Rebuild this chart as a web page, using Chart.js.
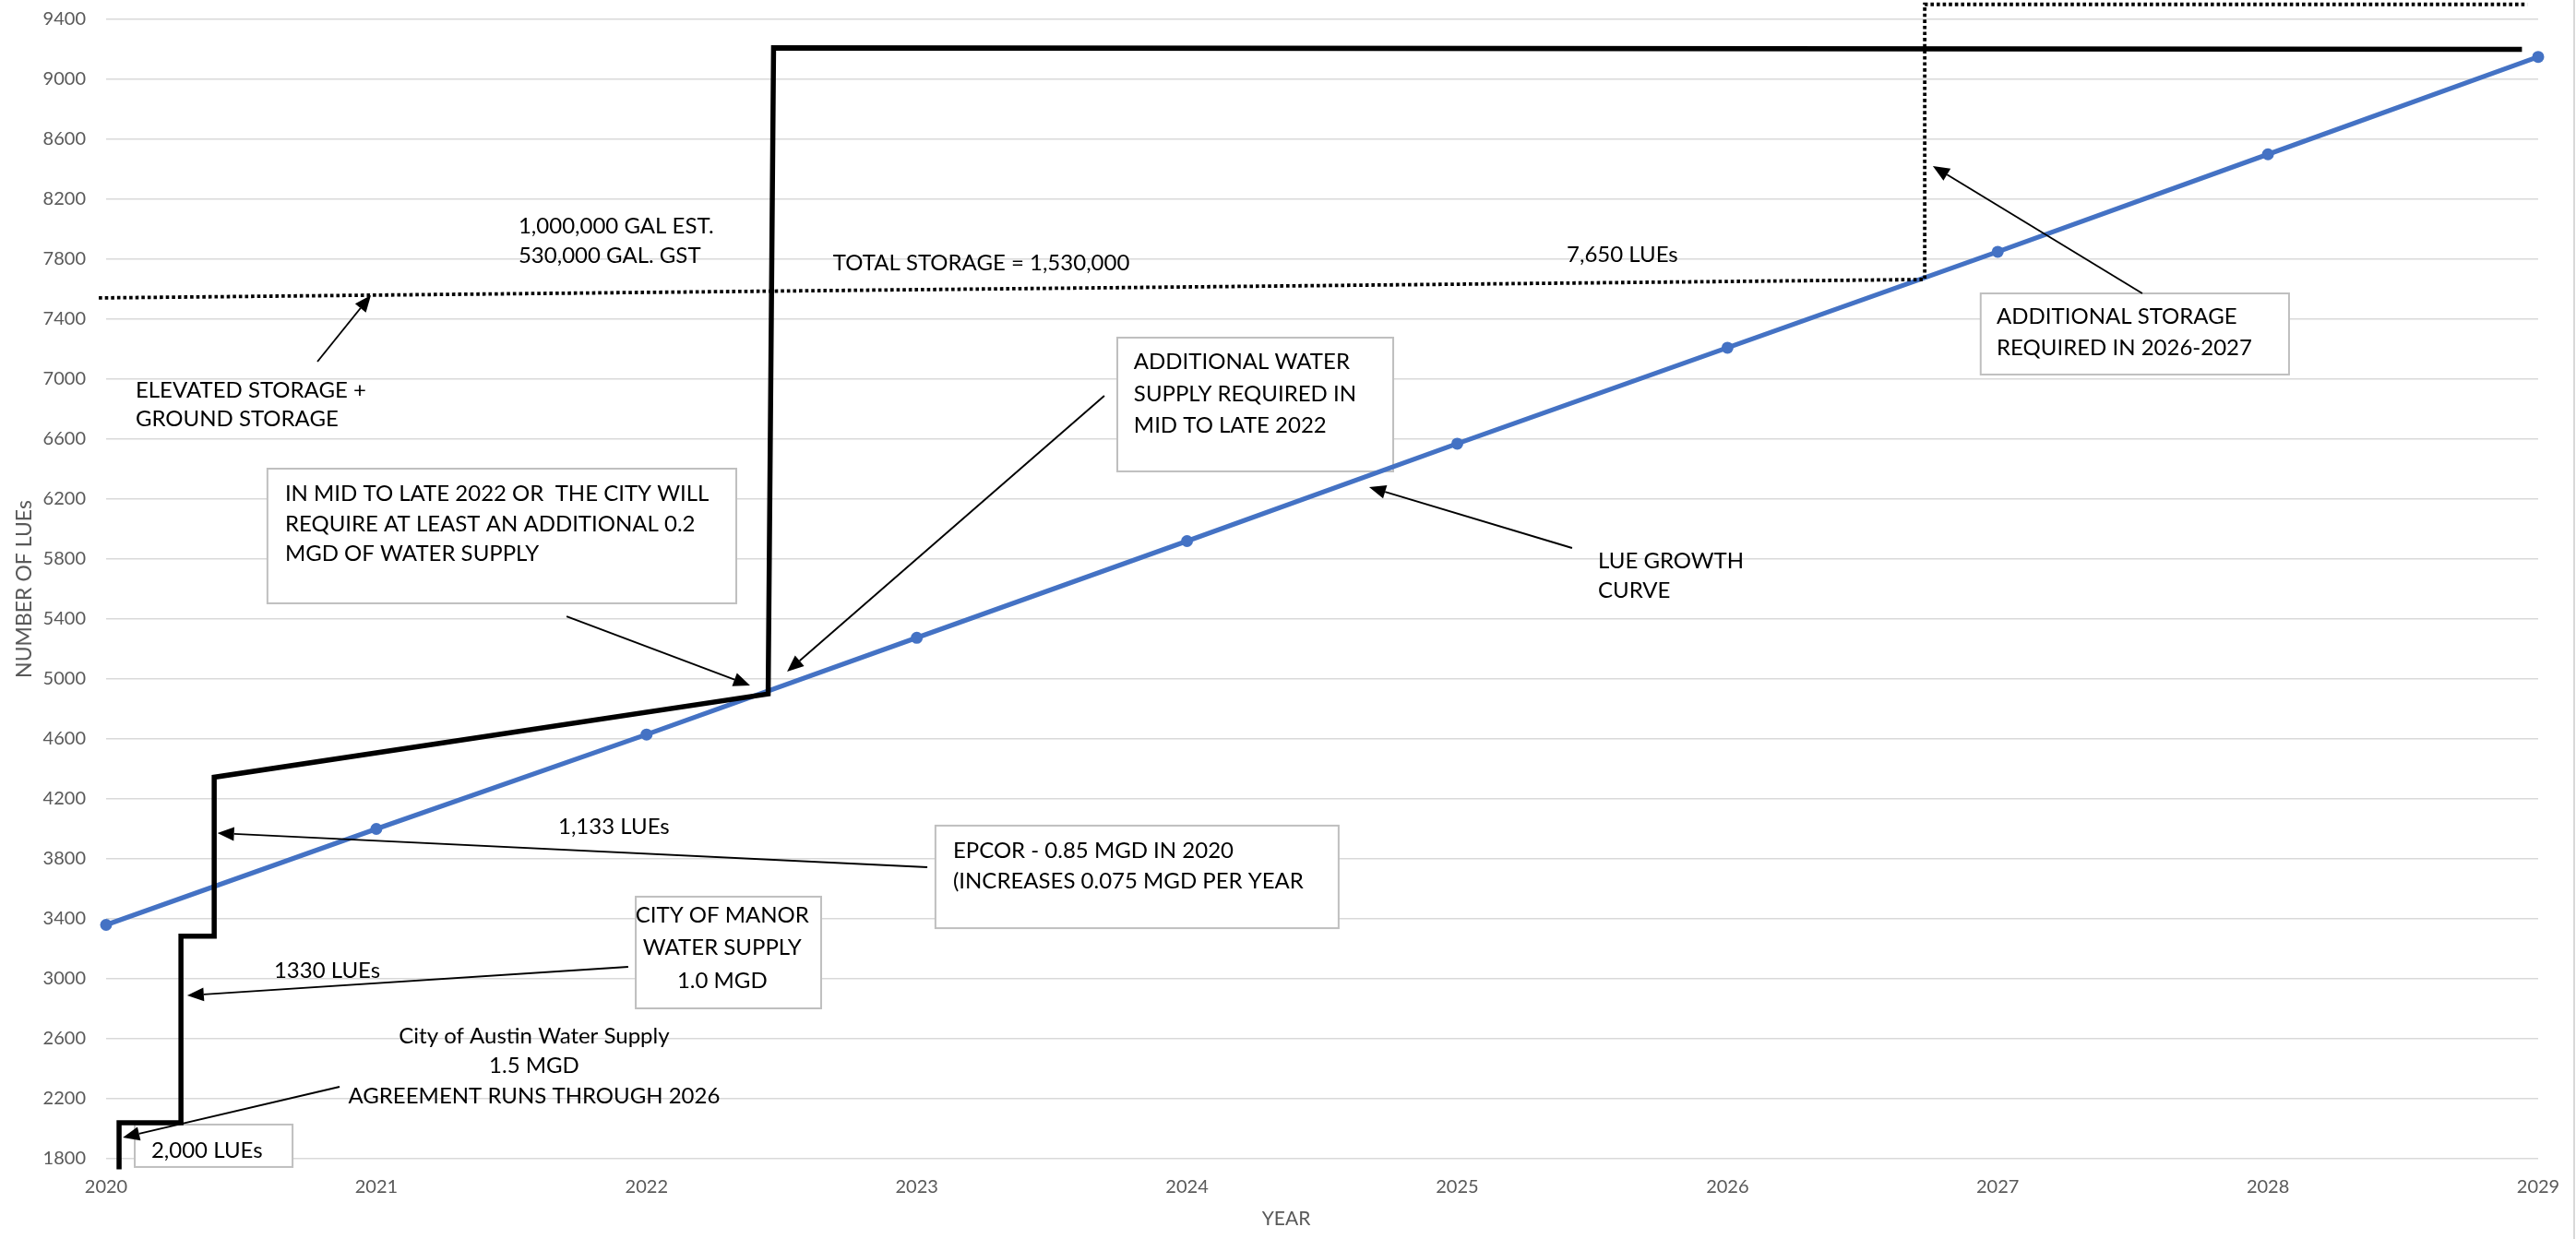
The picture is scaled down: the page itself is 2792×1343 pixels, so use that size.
<!DOCTYPE html>
<html>
<head>
<meta charset="utf-8">
<script src="https://cdn.jsdelivr.net/npm/chart.js@4/dist/chart.umd.min.js"></script>
<style>
  html, body { margin: 0; padding: 0; background: #ffffff; }
  #wrap { width: 2792px; height: 1343px; position: relative; }
</style>
</head>
<body>
<div id="wrap"><canvas id="c" width="2792" height="1343"></canvas></div>
<script>
// ---------------- DATA ----------------
const years = [2020, 2021, 2022, 2023, 2024, 2025, 2026, 2027, 2028, 2029];
const lueGrowth = [3360, 4000, 4630, 5275, 5920, 6570, 7210, 7850, 8500, 9150];

// water supply step line (year, LUEs)
const supplyX = [2020.048, 2020.048, 2020.277, 2020.277, 2020.40, 2020.40, 2022.45, 2022.47, 2028.94];
const supplyY = [1730, 2040, 2040, 3285, 3285, 4345, 4900, 9210, 9200];

// storage capacity dotted line (year, LUEs)
const storageX = [2019.973, 2019.973, 2026.73, 2026.73, 2028.96];
const storageY = [1730, 7542, 7665, 9500, 9500];

const yTickMin = 1800, yTickMax = 9400, yTickStep = 400;
const xTickMin = 2020, xTickMax = 2029, xTickStep = 1;
const xAxisTitle = 'YEAR';
const yAxisTitle = 'NUMBER OF LUEs';

// ---------------- ANNOTATIONS (in data units) ----------------
const noteBoxes = [
  [2020.597, 6403, 2022.332, 5505],
  [2023.742, 7277, 2024.763, 6385],
  [2026.937, 7572, 2028.078, 7031],
  [2023.069, 4022, 2024.561, 3338],
  [2021.960, 3548, 2022.646, 2803],
  [2020.106, 2028, 2020.690, 1745]
];
const noteTexts = [
  { x: 2020.109, y: [6926, 6735], lines: ['ELEVATED STORAGE +', 'GROUND STORAGE'] },
  { x: 2021.526, y: [8022, 7825], lines: ['1,000,000 GAL EST.', '530,000 GAL. GST'] },
  { x: 2022.690, y: [7775], lines: ['TOTAL STORAGE = 1,530,000'] },
  { x: 2025.405, y: [7831], lines: ['7,650 LUEs'] },
  { x: 2026.996, y: [7418, 7209], lines: ['ADDITIONAL STORAGE', 'REQUIRED IN 2026-2027'] },
  { x: 2023.803, y: [7117, 6902, 6692], lines: ['ADDITIONAL WATER', 'SUPPLY REQUIRED IN', 'MID TO LATE 2022'] },
  { x: 2020.662, y: [6237, 6034, 5837], lines: ['IN MID TO LATE 2022 OR  THE CITY WILL', 'REQUIRE AT LEAST AN ADDITIONAL 0.2', 'MGD OF WATER SUPPLY'] },
  { x: 2025.521, y: [5788, 5591], lines: ['LUE GROWTH', 'CURVE'] },
  { x: 2023.134, y: [3855, 3652], lines: ['EPCOR - 0.85 MGD IN 2020', '(INCREASES 0.075 MGD PER YEAR'] },
  { x: 2021.673, y: [4015], lines: ['1,133 LUEs'] },
  { x: 2022.280, y: [3425, 3209, 2988], lines: ['CITY OF MANOR', 'WATER SUPPLY', '1.0 MGD'], align: 'center' },
  { x: 2020.621, y: [3055], lines: ['1330 LUEs'] },
  { x: 2021.584, y: [2618, 2422, 2218], lines: ['City of Austin Water Supply', '1.5 MGD', 'AGREEMENT RUNS THROUGH 2026'], align: 'center' },
  { x: 2020.167, y: [1855], lines: ['2,000 LUEs'] }
];
// [fromX, fromY, toX(tip), toY(tip)]
const noteArrows = [
  [2020.782, 7117, 2020.980, 7560],
  [2027.535, 7572, 2026.760, 8422],
  [2023.694, 6889, 2022.520, 5049],
  [2021.704, 5418, 2022.383, 4957],
  [2025.425, 5874, 2024.674, 6280],
  [2023.039, 3745, 2020.412, 3972],
  [2021.932, 3080, 2020.300, 2889],
  [2020.864, 2280, 2020.062, 1942]
];
const yearTitleX = 2024.367;

// ---------------- DRAWING ----------------
const FONT = 'Lato, "Open Sans", sans-serif';

function drawArrow(ctx, x1, y1, x2, y2) {
  const len = 18, half = 7.5;
  const ang = Math.atan2(y2 - y1, x2 - x1);
  const bx = x2 - len * Math.cos(ang), by = y2 - len * Math.sin(ang);
  ctx.save();
  ctx.strokeStyle = '#000';
  ctx.lineWidth = 1.9;
  ctx.beginPath();
  ctx.moveTo(x1, y1);
  ctx.lineTo(bx, by);
  ctx.stroke();
  ctx.fillStyle = '#000';
  ctx.beginPath();
  ctx.moveTo(x2, y2);
  ctx.lineTo(bx + half * Math.sin(ang), by - half * Math.cos(ang));
  ctx.lineTo(bx - half * Math.sin(ang), by + half * Math.cos(ang));
  ctx.closePath();
  ctx.fill();
  ctx.restore();
}

const annotPlugin = {
  id: 'annot',
  beforeDatasetsDraw(chart) {
    const { ctx, scales: { x, y } } = chart;
    ctx.save();
    noteBoxes.forEach(b => {
      const x1 = x.getPixelForValue(b[0]), y1 = y.getPixelForValue(b[1]);
      const x2 = x.getPixelForValue(b[2]), y2 = y.getPixelForValue(b[3]);
      ctx.fillStyle = '#ffffff';
      ctx.fillRect(x1, y1, x2 - x1, y2 - y1);
      ctx.strokeStyle = '#BFBFBF';
      ctx.lineWidth = 2;
      ctx.strokeRect(x1, y1, x2 - x1, y2 - y1);
    });
    ctx.restore();
  },
  afterDatasetsDraw(chart) {
    const { ctx, scales: { x, y } } = chart;
    ctx.save();
    ctx.font = '24px ' + FONT;
    ctx.fillStyle = '#000000';
    ctx.textBaseline = 'middle';
    noteTexts.forEach(t => {
      ctx.textAlign = t.align || 'left';
      const px = x.getPixelForValue(t.x);
      t.lines.forEach((line, i) => {
        ctx.fillText(line, px, y.getPixelForValue(t.y[i]));
      });
    });
    noteArrows.forEach(a => {
      drawArrow(ctx, x.getPixelForValue(a[0]), y.getPixelForValue(a[1]),
                     x.getPixelForValue(a[2]), y.getPixelForValue(a[3]));
    });
    // x axis title
    ctx.font = '21px ' + FONT;
    ctx.fillStyle = '#595959';
    ctx.textAlign = 'center';
    ctx.fillText(xAxisTitle, x.getPixelForValue(yearTitleX), chart.height - 22);
    // outer chart border (right edge)
    ctx.strokeStyle = '#D9D9D9';
    ctx.lineWidth = 2;
    ctx.beginPath();
    ctx.moveTo(chart.width - 2, 0);
    ctx.lineTo(chart.width - 2, chart.height);
    ctx.stroke();
    ctx.restore();
  }
};

function build() {
  const ctx = document.getElementById('c').getContext('2d');
  new Chart(ctx, {
    type: 'line',
    data: {
      datasets: [
        {
          label: 'Storage',
          data: storageX.map((v, i) => ({ x: v, y: storageY[i] })),
          borderColor: '#000000',
          borderWidth: 3.8,
          borderDash: [3.6, 3],
          borderCapStyle: 'butt',
          borderJoinStyle: 'miter',
          pointRadius: 0,
          tension: 0,
          fill: false,
          clip: false
        },
        {
          label: 'Supply',
          data: supplyX.map((v, i) => ({ x: v, y: supplyY[i] })),
          borderColor: '#000000',
          borderWidth: 5.5,
          borderJoinStyle: 'miter',
          borderCapStyle: 'butt',
          pointRadius: 0,
          tension: 0,
          fill: false,
          clip: false
        },
        {
          label: 'LUE Growth',
          data: years.map((v, i) => ({ x: v, y: lueGrowth[i] })),
          borderColor: '#4472C4',
          backgroundColor: '#4472C4',
          borderWidth: 5.2,
          pointRadius: 6.5,
          pointBorderWidth: 0,
          pointBackgroundColor: '#4472C4',
          tension: 0,
          fill: false,
          clip: false
        }
      ]
    },
    options: {
      responsive: false,
      animation: false,
      devicePixelRatio: 1,
      events: [],
      layout: { padding: { left: 0, right: 41, top: 21, bottom: 0 } },
      plugins: { legend: { display: false }, tooltip: { enabled: false } },
      scales: {
        x: {
          type: 'linear',
          min: xTickMin,
          max: xTickMax,
          ticks: {
            stepSize: xTickStep,
            autoSkip: false,
            maxRotation: 0,
            padding: 19,
            color: '#595959',
            font: { family: FONT, size: 20 },
            callback: v => String(v)
          },
          grid: { display: false, drawTicks: false },
          border: { display: false },
          afterFit(s) { s.height = 87; s.paddingLeft = 0; s.paddingRight = 0; }
        },
        y: {
          min: yTickMin,
          max: yTickMax,
          ticks: {
            stepSize: yTickStep,
            padding: 22,
            color: '#595959',
            font: { family: FONT, size: 20 },
            callback: v => String(v)
          },
          grid: { color: '#D9D9D9', lineWidth: 1.6, drawTicks: false },
          border: { display: false },
          title: {
            display: true,
            text: yAxisTitle,
            color: '#595959',
            font: { family: FONT, size: 23 },
            padding: { top: 13, bottom: 0 }
          },
          afterFit(s) { s.width = 115; s.paddingTop = 0; s.paddingBottom = 0; }
        }
      }
    },
    plugins: [annotPlugin]
  });
}

if (document.fonts && document.fonts.load) {
  Promise.all([
    document.fonts.load('24px Lato'),
    document.fonts.load('21px Lato'),
    document.fonts.load('20px Lato'),
    document.fonts.load('23px Lato')
  ]).then(build, build);
} else {
  build();
}
</script>
</body>
</html>
